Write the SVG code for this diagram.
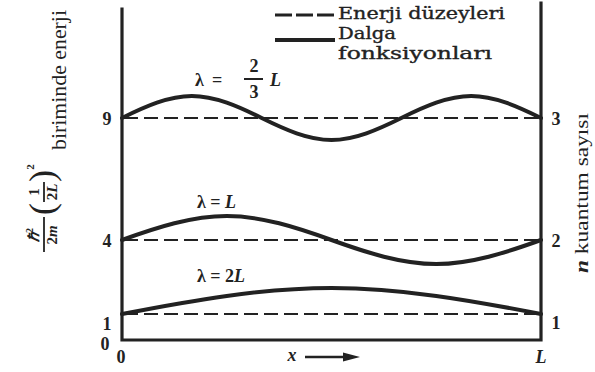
<svg xmlns="http://www.w3.org/2000/svg" width="595" height="372" viewBox="0 0 595 372">
<style>
.ax{stroke:#222;stroke-width:3.2;fill:none;stroke-linecap:square}
.lvl{stroke:#222;stroke-width:2;fill:none;stroke-dasharray:14 6}
.wave{stroke:#222;stroke-width:4;fill:none;stroke-linecap:round}
.num{font-family:"Liberation Serif",serif;font-weight:bold;font-size:18px;fill:#222}
.lab{font-family:"Liberation Serif",serif;font-weight:bold;font-size:18px;fill:#222}
.it{font-style:italic}
.leg{font-family:"DejaVu Serif",serif;font-size:16px;fill:#222;stroke:#222;stroke-width:0.35}
.ser{font-family:"Liberation Serif",serif;fill:#222}
</style>
<g id="axes">
<path class="ax" d="M122,9 V340 H541 V3"/>
</g>
<g id="levels">
<line class="lvl" x1="124" y1="118" x2="539" y2="118"/>
<line class="lvl" x1="124" y1="240" x2="539" y2="240"/>
<line class="lvl" x1="124" y1="314" x2="539" y2="314"/>
</g>
<g id="waves">
<path class="wave" d="M122,118 C145.28,106.48 168.56,96 191.83,96 C215.11,96 238.39,106.48 261.67,118 C284.94,129.52 308.22,140 331.5,140 C354.78,140 378.06,129.52 401.33,118 C424.61,106.48 447.89,96 471.17,96 C494.44,96 517.72,106.48 541,118"/>
<path class="wave" d="M122,240 C156.92,227.43 191.83,216 226.75,216 C261.67,216 296.58,227.43 331.5,240 C366.42,252.57 401.33,264 436.25,264 C471.17,264 506.08,252.57 541,240"/>
<path class="wave" d="M122,314 C191.83,300.39 261.67,288 331.5,288 C401.33,288 471.17,300.39 541,314"/>
</g>
<g id="legend">
<line x1="275" y1="15" x2="335" y2="15" stroke="#222" stroke-width="3" stroke-dasharray="17 4"/>
<text class="leg" x="338" y="19" textLength="167" lengthAdjust="spacingAndGlyphs">Enerji düzeyleri</text>
<line x1="275" y1="40" x2="335" y2="40" stroke="#222" stroke-width="4"/>
<text class="leg" x="338" y="39" textLength="58" lengthAdjust="spacingAndGlyphs">Dalga</text>
<text class="leg" x="338" y="59" textLength="154" lengthAdjust="spacingAndGlyphs">fonksiyonları</text>
</g>
<g id="wave-labels">
<text class="lab" x="195" y="86">λ</text>
<text class="lab" x="212" y="86">=</text>
<text class="lab" x="254" y="72" text-anchor="middle">2</text>
<line x1="244" y1="79" x2="263" y2="79" stroke="#222" stroke-width="2"/>
<text class="lab" x="254" y="98" text-anchor="middle">3</text>
<text class="lab it" x="270" y="86">L</text>
<text class="lab" x="197" y="208">λ = <tspan class="it">L</tspan></text>
<text class="lab" x="197" y="282">λ = 2<tspan class="it">L</tspan></text>
</g>
<g id="left-numbers" class="num" text-anchor="middle">
<text x="107" y="125">9</text>
<text x="107" y="247">4</text>
<text x="107" y="330">1</text>
<text x="105" y="350">0</text>
</g>
<g id="right-numbers" class="num" text-anchor="middle">
<text x="556" y="125">3</text>
<text x="556" y="247">2</text>
<text x="556" y="329">1</text>
</g>
<g id="x-axis-labels">
<text class="num" x="121" y="363" text-anchor="middle">0</text>
<text class="num it" x="541" y="363" text-anchor="middle">L</text>
<text class="num it" x="292" y="361" text-anchor="middle">x</text>
<line x1="305" y1="357" x2="348" y2="357" stroke="#222" stroke-width="2.5"/>
<path d="M360,357 L343,352.5 L343,361.5 Z" fill="#222"/>
</g>
<g id="y-label" transform="translate(0,372) rotate(-90)">
<text class="ser" x="137" y="39" font-size="15" font-weight="bold" font-style="italic" text-anchor="middle" font-family="DejaVu Serif, serif">ℏ<tspan font-size="10" dy="-6" font-style="normal">2</tspan></text>
<line x1="120" y1="44" x2="155" y2="44" stroke="#222" stroke-width="1.8"/>
<text class="ser" x="137" y="57" font-size="15" font-weight="bold" text-anchor="middle">2<tspan font-style="italic">m</tspan></text>
<text class="ser" x="163" y="54" font-size="36" text-anchor="middle">(</text>
<text class="ser" x="180" y="39" font-size="15" font-weight="bold" text-anchor="middle">1</text>
<line x1="170" y1="44" x2="190" y2="44" stroke="#222" stroke-width="1.8"/>
<text class="ser" x="180" y="57" font-size="15" font-weight="bold" text-anchor="middle">2<tspan font-style="italic">L</tspan></text>
<text class="ser" x="196" y="54" font-size="36" text-anchor="middle">)</text>
<text class="ser" x="205" y="34" font-size="11" font-weight="bold" text-anchor="middle">2</text>
<text class="ser" x="222" y="66" font-size="20" textLength="140" lengthAdjust="spacingAndGlyphs">biriminde enerji</text>
</g>
<g id="n-label" transform="translate(0,372) rotate(-90)">
<text class="ser" x="99" y="588" font-size="18" textLength="160" lengthAdjust="spacingAndGlyphs"><tspan font-style="italic" font-weight="bold">n</tspan> kuantum sayısı</text>
</g>
</svg>
